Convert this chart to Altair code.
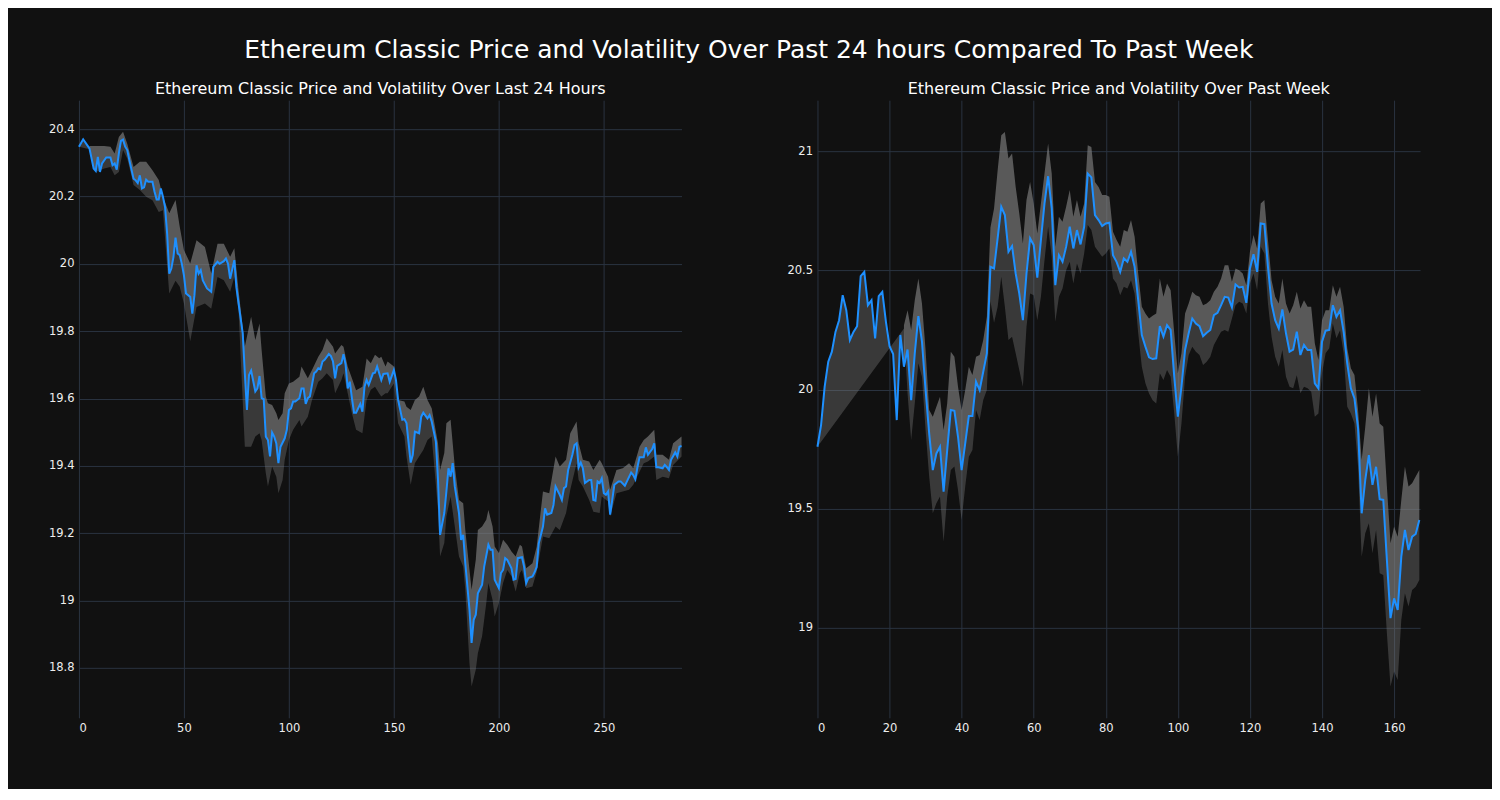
import altair as alt
import pandas as pd

MAIN_TITLE = "Ethereum Classic Price and Volatility Over Past 24 hours Compared To Past Week"
LEFT_TITLE = "Ethereum Classic Price and Volatility Over Last 24 Hours"
RIGHT_TITLE = "Ethereum Classic Price and Volatility Over Past Week"

# Left panel: 5-minute index, price
LEFT_PRICE = [
    (0, 20.348), (2, 20.37), (4, 20.352), (5, 20.343), (7, 20.283), (8, 20.276), (9, 20.318),
    (10, 20.273), (11, 20.298), (13, 20.316), (15, 20.316), (16, 20.293), (17, 20.298),
    (18, 20.28), (19, 20.328), (20, 20.365), (21, 20.369), (22, 20.348), (23, 20.338),
    (24, 20.308), (26, 20.253), (27, 20.248), (28, 20.24), (29, 20.263), (30, 20.224),
    (31, 20.227), (32, 20.25), (33, 20.244), (35, 20.244), (36, 20.214), (37, 20.191),
    (38, 20.191), (39, 20.224), (40, 20.199), (41, 20.169), (42, 20.09), (43, 19.971),
    (44, 19.986), (45, 20.02), (46, 20.078), (47, 20.031), (48, 20.026), (49, 20.0),
    (50, 19.966), (51, 19.912), (53, 19.902), (54, 19.852), (55, 19.907), (56, 19.996),
    (57, 19.971), (58, 19.981), (59, 19.951), (61, 19.927), (63, 19.917), (64, 19.991),
    (66, 20.006), (67, 20.0), (69, 20.008), (70, 20.016), (71, 20.0), (72, 19.956),
    (74, 20.011), (75, 19.93), (76, 19.883), (78, 19.794), (79, 19.675), (80, 19.566),
    (81, 19.67), (82, 19.683), (84, 19.621), (85, 19.63), (86, 19.667), (87, 19.601),
    (88, 19.598), (89, 19.487), (90, 19.477), (91, 19.428), (92, 19.499), (93, 19.487),
    (94, 19.467), (95, 19.408), (96, 19.457), (98, 19.482), (99, 19.507), (100, 19.566),
    (101, 19.571), (102, 19.591), (103, 19.591), (105, 19.601), (106, 19.63), (107, 19.63),
    (108, 19.584), (109, 19.601), (110, 19.606), (112, 19.675), (113, 19.68), (114, 19.69),
    (115, 19.687), (116, 19.71), (117, 19.715), (119, 19.732), (120, 19.726), (121, 19.71),
    (122, 19.66), (123, 19.697), (125, 19.705), (126, 19.732), (127, 19.7), (128, 19.63),
    (129, 19.65), (130, 19.601), (131, 19.558), (132, 19.558), (134, 19.584), (135, 19.561),
    (136, 19.635), (137, 19.655), (138, 19.64), (140, 19.675), (141, 19.677), (142, 19.695),
    (144, 19.655), (145, 19.673), (147, 19.675), (148, 19.65), (150, 19.685), (151, 19.655),
    (152, 19.596), (154, 19.537), (155, 19.539), (156, 19.527), (158, 19.41), (159, 19.433),
    (160, 19.502), (162, 19.497), (163, 19.546), (164, 19.558), (166, 19.541), (167, 19.551),
    (168, 19.532), (170, 19.472), (171, 19.359), (172, 19.195), (174, 19.26), (175, 19.324),
    (176, 19.393), (177, 19.368), (178, 19.408), (179, 19.339), (181, 19.26), (182, 19.18),
    (183, 19.195), (184, 19.111), (186, 18.973), (187, 18.874), (188, 18.943), (189, 18.958),
    (190, 19.022), (192, 19.047), (193, 19.101), (195, 19.166), (196, 19.151), (197, 19.151),
    (198, 19.062), (200, 19.037), (201, 19.082), (202, 19.091), (203, 19.126), (204, 19.121),
    (206, 19.096), (207, 19.062), (208, 19.064), (209, 19.126), (211, 19.129), (212, 19.101),
    (213, 19.052), (214, 19.067), (216, 19.072), (217, 19.084), (218, 19.10), (219, 19.17),
    (221, 19.22), (222, 19.274), (223, 19.255), (225, 19.26), (226, 19.284), (227, 19.339),
    (229, 19.314), (230, 19.299), (231, 19.334), (232, 19.339), (233, 19.388), (235, 19.433),
    (236, 19.462), (237, 19.467), (238, 19.396), (239, 19.41), (240, 19.393), (241, 19.349),
    (243, 19.358), (244, 19.358), (245, 19.299), (246, 19.297), (247, 19.354), (248, 19.349),
    (249, 19.363), (250, 19.319), (251, 19.314), (252, 19.324), (253, 19.255), (254, 19.299),
    (255, 19.344), (257, 19.354), (258, 19.354), (260, 19.341), (261, 19.354), (263, 19.38),
    (264, 19.373), (265, 19.36), (266, 19.396), (267, 19.426), (269, 19.426), (270, 19.455),
    (271, 19.433), (273, 19.45), (274, 19.467), (275, 19.396), (276, 19.396), (278, 19.393),
    (279, 19.403), (280, 19.396), (281, 19.388), (282, 19.418), (284, 19.44), (285, 19.428),
    (286, 19.457), (287, 19.459),
]

# Left panel volatility band: (index, upper, lower)
LEFT_BAND = [
    (5, 20.35, 20.34), (8, 20.35, 20.273), (12, 20.35, 20.283), (15, 20.348, 20.288),
    (17, 20.328, 20.263), (19, 20.377, 20.273), (21, 20.392, 20.338), (23, 20.357, 20.313),
    (26, 20.288, 20.234), (29, 20.303, 20.219), (32, 20.303, 20.199), (35, 20.278, 20.189),
    (38, 20.249, 20.154), (40, 20.199, 20.159), (43, 20.15, 19.912), (46, 20.19, 19.95),
    (48, 20.11, 19.932), (50, 20.041, 19.882), (53, 20.001, 19.77), (56, 20.07, 19.872),
    (60, 20.05, 19.882), (63, 19.971, 19.867), (66, 20.06, 19.961), (69, 20.06, 19.951),
    (72, 20.021, 19.917), (74, 20.046, 19.962), (76, 19.922, 19.863), (79, 19.754, 19.457),
    (82, 19.843, 19.457), (84, 19.774, 19.487), (86, 19.823, 19.497), (87, 19.744, 19.477),
    (89, 19.606, 19.378), (90, 19.586, 19.339), (92, 19.581, 19.398), (94, 19.556, 19.368),
    (95, 19.536, 19.319), (97, 19.556, 19.358), (98, 19.616, 19.418), (100, 19.645, 19.477),
    (102, 19.65, 19.507), (105, 19.665, 19.536), (106, 19.695, 19.517), (109, 19.66, 19.546),
    (111, 19.685, 19.596), (114, 19.724, 19.65), (116, 19.744, 19.66), (118, 19.779, 19.675),
    (121, 19.754, 19.655), (122, 19.734, 19.616), (125, 19.759, 19.655), (126, 19.754, 19.675),
    (128, 19.695, 19.616), (130, 19.66, 19.556), (132, 19.625, 19.507), (135, 19.635, 19.497),
    (137, 19.719, 19.596), (139, 19.705, 19.626), (141, 19.73, 19.635), (143, 19.72, 19.615),
    (144, 19.724, 19.606), (146, 19.695, 19.616), (147, 19.71, 19.616), (150, 19.695, 19.645),
    (152, 19.596, 19.527), (155, 19.591, 19.487), (156, 19.576, 19.428), (158, 19.566, 19.344),
    (160, 19.596, 19.408), (162, 19.606, 19.428), (164, 19.635, 19.447), (166, 19.596, 19.477),
    (168, 19.571, 19.487), (171, 19.467, 19.27), (172, 19.388, 19.131), (174, 19.438, 19.171),
    (175, 19.527, 19.25), (177, 19.537, 19.309), (179, 19.398, 19.22), (181, 19.299, 19.131),
    (183, 19.289, 19.101), (184, 19.21, 19.032), (186, 19.091, 18.814), (187, 19.032, 18.745),
    (189, 19.121, 18.795), (190, 19.21, 18.844), (192, 19.22, 18.894), (194, 19.24, 18.993),
    (195, 19.269, 19.052), (197, 19.22, 19.002), (198, 19.161, 18.953), (200, 19.141, 18.993),
    (202, 19.181, 19.052), (204, 19.166, 19.091), (206, 19.146, 19.072), (208, 19.131, 19.027),
    (210, 19.166, 19.082), (211, 19.161, 19.091), (213, 19.096, 19.037), (216, 19.111, 19.042),
    (218, 19.16, 19.085), (221, 19.324, 19.19), (224, 19.319, 19.185), (227, 19.428, 19.22),
    (229, 19.398, 19.21), (232, 19.418, 19.26), (234, 19.497, 19.329), (237, 19.532, 19.408),
    (238, 19.467, 19.358), (240, 19.418, 19.339), (243, 19.413, 19.299), (245, 19.388, 19.264),
    (248, 19.418, 19.26), (249, 19.408, 19.309), (252, 19.368, 19.294), (253, 19.329, 19.25),
    (256, 19.388, 19.319), (259, 19.393, 19.324), (262, 19.408, 19.329), (264, 19.393, 19.344),
    (267, 19.457, 19.383), (269, 19.477, 19.408), (271, 19.487, 19.413), (274, 19.507, 19.428),
    (275, 19.433, 19.358), (278, 19.433, 19.368), (281, 19.418, 19.363), (283, 19.467, 19.403),
    (287, 19.487, 19.428),
]

# Right panel: hourly price, index 0..167
RIGHT_PRICE = [
    19.760, 19.851, 20.012, 20.117, 20.159, 20.242, 20.291, 20.396, 20.333, 20.208,
    20.242, 20.266, 20.476, 20.494, 20.354, 20.375, 20.215, 20.392, 20.410, 20.284,
    20.182, 20.149, 19.872, 20.229, 20.096, 20.168, 19.956, 20.152, 20.308, 20.201,
    19.998, 19.816, 19.662, 19.732, 19.760, 19.572, 19.746, 19.914, 19.911, 19.802,
    19.662, 19.774, 19.889, 19.889, 20.033, 19.998, 20.075, 20.152, 20.515, 20.508,
    20.635, 20.767, 20.732, 20.578, 20.602, 20.487, 20.403, 20.291, 20.487, 20.634,
    20.606, 20.47, 20.627, 20.781, 20.895, 20.76, 20.438, 20.564, 20.536, 20.599,
    20.683, 20.592, 20.669, 20.609, 20.683, 20.906, 20.89, 20.732, 20.711, 20.686,
    20.697, 20.7, 20.564, 20.536, 20.494, 20.55, 20.536, 20.578, 20.515, 20.375,
    20.229, 20.18, 20.135, 20.128, 20.131, 20.266, 20.222, 20.27, 20.25, 20.054,
    19.886, 20.012, 20.166, 20.236, 20.298, 20.277, 20.266, 20.224, 20.238, 20.25,
    20.312, 20.322, 20.354, 20.389, 20.386, 20.345, 20.441, 20.428, 20.431, 20.364,
    20.508, 20.568, 20.494, 20.697, 20.694, 20.515, 20.361, 20.291, 20.256, 20.336,
    20.236, 20.159, 20.168, 20.243, 20.145, 20.187, 20.166, 20.166, 20.026, 20.005,
    20.201, 20.247, 20.25, 20.354, 20.305, 20.333, 20.242, 20.11, 20.005, 19.963,
    19.837, 19.481, 19.621, 19.725, 19.6, 19.676, 19.54, 19.537, 19.285, 19.041,
    19.124, 19.075, 19.299, 19.411, 19.327, 19.383, 19.394, 19.453,
]

# Right panel volatility band: (index, upper, lower)
RIGHT_BAND = [
    (24, 20.27, 20.256), (25, 20.333, 19.984), (26, 20.25, 19.788), (27, 20.375, 19.942),
    (28, 20.466, 20.11), (29, 20.361, 20.054), (30, 20.166, 19.83), (31, 19.914, 19.635),
    (32, 19.886, 19.481), (33, 19.928, 19.523), (34, 19.97, 19.551), (35, 19.83, 19.362),
    (36, 19.942, 19.551), (37, 20.159, 19.663), (38, 20.138, 19.677), (39, 20.012, 19.579),
    (40, 19.914, 19.453), (41, 19.998, 19.593), (42, 20.096, 19.718), (43, 20.061, 19.746),
    (44, 20.138, 19.914), (45, 20.145, 19.872), (46, 20.208, 19.956), (47, 20.306, 19.998),
    (48, 20.68, 20.37), (49, 20.76, 20.28), (50, 20.92, 20.347), (51, 21.067, 20.473),
    (52, 21.081, 20.347), (53, 20.969, 20.208), (54, 20.99, 20.222), (55, 20.85, 20.152),
    (56, 20.739, 20.082), (57, 20.613, 20.012), (58, 20.795, 20.263), (59, 20.871, 20.403),
    (60, 20.781, 20.396), (61, 20.655, 20.291), (62, 20.781, 20.389), (63, 20.906, 20.543),
    (64, 21.032, 20.683), (65, 20.906, 20.557), (66, 20.599, 20.284), (67, 20.725, 20.389),
    (68, 20.704, 20.424), (69, 20.767, 20.501), (70, 20.837, 20.536), (71, 20.725, 20.445),
    (72, 20.795, 20.529), (73, 20.725, 20.487), (74, 20.781, 20.571), (75, 21.025, 20.69),
    (76, 21.018, 20.669), (77, 20.871, 20.599), (78, 20.85, 20.578), (79, 20.816, 20.557),
    (80, 20.816, 20.571), (81, 20.809, 20.592), (82, 20.662, 20.466), (83, 20.627, 20.445),
    (84, 20.599, 20.396), (85, 20.669, 20.431), (86, 20.662, 20.424), (87, 20.711, 20.459),
    (88, 20.641, 20.403), (89, 20.487, 20.236), (90, 20.347, 20.096), (91, 20.319, 20.026),
    (92, 20.298, 19.984), (93, 20.31, 19.955), (94, 20.319, 19.942), (95, 20.466, 20.068),
    (96, 20.389, 20.04), (97, 20.445, 20.082), (98, 20.417, 20.054), (99, 20.236, 19.9),
    (100, 20.068, 19.718), (101, 20.152, 19.858), (102, 20.319, 20.054), (103, 20.361, 20.145),
    (104, 20.41, 20.18), (105, 20.396, 20.159), (106, 20.389, 20.145), (107, 20.354, 20.103),
    (108, 20.361, 20.117), (109, 20.375, 20.138), (110, 20.41, 20.187), (111, 20.431, 20.215),
    (112, 20.466, 20.243), (113, 20.522, 20.25), (114, 20.522, 20.243), (115, 20.452, 20.298),
    (116, 20.508, 20.354), (117, 20.501, 20.368), (118, 20.487, 20.361), (119, 20.438, 20.319),
    (120, 20.578, 20.445), (121, 20.648, 20.487), (122, 20.592, 20.417), (123, 20.781, 20.599),
    (124, 20.795, 20.571), (125, 20.627, 20.361), (126, 20.459, 20.222), (127, 20.389, 20.138),
    (128, 20.361, 20.096), (129, 20.466, 20.166), (130, 20.361, 20.054), (131, 20.319, 20.012),
    (132, 20.354, 20.005), (133, 20.41, 20.06), (134, 20.34, 19.985), (135, 20.375, 20.012),
    (136, 20.347, 20.005), (137, 20.347, 19.991), (138, 20.194, 19.886), (139, 20.124, 19.9),
    (140, 20.291, 20.068), (141, 20.333, 20.152), (142, 20.333, 20.173), (143, 20.438, 20.277),
    (144, 20.389, 20.215), (145, 20.431, 20.249), (146, 20.347, 20.152), (147, 20.173, 19.928),
    (148, 20.089, 19.9), (149, 20.061, 19.858), (150, 19.914, 19.676), (151, 19.704, 19.299),
    (152, 19.844, 19.397), (153, 20.005, 19.439), (154, 19.886, 19.313), (155, 19.984, 19.411),
    (156, 19.858, 19.229), (157, 19.844, 19.222), (158, 19.593, 18.978), (159, 19.355, 18.754),
    (160, 19.425, 18.817), (161, 19.383, 18.782), (162, 19.537, 19.034), (163, 19.677, 19.145),
    (164, 19.593, 19.09), (165, 19.607, 19.159), (166, 19.635, 19.173), (167, 19.663, 19.201),
]

LEFT_X_TICKS = [0, 50, 100, 150, 200, 250]
LEFT_Y_TICKS = [18.8, 19.0, 19.2, 19.4, 19.6, 19.8, 20.0, 20.2, 20.4]
RIGHT_X_TICKS = [0, 20, 40, 60, 80, 100, 120, 140, 160]
RIGHT_Y_TICKS = [19.0, 19.5, 20.0, 20.5, 21.0]

LINE_COLOR = "#1e90ff"
BAND_COLOR = "#808080"
BAND_UPPER_OPACITY = 0.66
BAND_LOWER_OPACITY = 0.37
FONT = "DejaVu Sans"


def polygons(price, band):
    """Build closed outlines: price->upper band and lower band->price."""
    start = band[0][0]
    upper = [(x, y) for x, y in price if x >= start] + [(b[0], b[1]) for b in reversed(band)]
    lower = [(b[0], b[2]) for b in band] + [(x, y) for x, y in reversed(price)]
    up = pd.DataFrame({"x": [p[0] for p in upper], "y": [p[1] for p in upper],
                       "o": list(range(len(upper)))})
    lo = pd.DataFrame({"x": [p[0] for p in lower], "y": [p[1] for p in lower],
                       "o": list(range(len(lower)))})
    return up, lo


def panel(price, band, xdom, ydom, xticks, yticks, title, w, h):
    up, lo = polygons(price, band)
    pdf = pd.DataFrame({"x": [p[0] for p in price], "y": [p[1] for p in price]})
    xs = alt.Scale(domain=xdom, nice=False, zero=False)
    ys = alt.Scale(domain=ydom, nice=False, zero=False)
    xenc = alt.X("x:Q", scale=xs, axis=alt.Axis(values=xticks, title=None, format="d"))
    yenc = alt.Y("y:Q", scale=ys, axis=alt.Axis(values=yticks, title=None, format=".1~f"))
    upper_poly = alt.Chart(up).mark_line(
        fill=BAND_COLOR, strokeOpacity=0, fillOpacity=BAND_UPPER_OPACITY
    ).encode(x=xenc, y=yenc, order=alt.Order("o:Q"))
    lower_poly = alt.Chart(lo).mark_line(
        fill=BAND_COLOR, strokeOpacity=0, fillOpacity=BAND_LOWER_OPACITY
    ).encode(x=xenc, y=yenc, order=alt.Order("o:Q"))
    line = alt.Chart(pdf).mark_line(color=LINE_COLOR, strokeWidth=2).encode(x=xenc, y=yenc)
    return alt.layer(upper_poly, lower_poly, line).properties(
        width=w, height=h,
        title=alt.TitleParams(title, fontSize=16, font=FONT, color="#ffffff",
                              fontWeight="normal", offset=3),
    )


right_price_pairs = list(zip(range(len(RIGHT_PRICE)), RIGHT_PRICE))

left = panel(LEFT_PRICE, LEFT_BAND, [0, 287], [18.652, 20.486],
             LEFT_X_TICKS, LEFT_Y_TICKS, LEFT_TITLE, 603, 618)
right = panel(right_price_pairs, RIGHT_BAND, [0, 167.2], [18.623, 21.214],
              RIGHT_X_TICKS, RIGHT_Y_TICKS, RIGHT_TITLE, 603, 618)

chart = alt.hconcat(left, right, spacing=101).properties(
    title=alt.TitleParams(MAIN_TITLE, fontSize=25, font=FONT, color="#ffffff",
                          fontWeight="normal", anchor="middle", offset=18, dx=13),
    background="#111111",
    padding={"left": 40, "top": 30, "right": 68, "bottom": 54},
).configure_view(stroke=None).configure_axis(
    grid=True, gridColor="#2a3340", gridWidth=1, domain=False, ticks=False,
    labelColor="#eeeeee", labelFont=FONT, labelFontSize=11.5, labelPadding=5,
).configure_concat(spacing=101)

chart.save("out.html", embed_options={"renderer": "svg", "actions": False})
